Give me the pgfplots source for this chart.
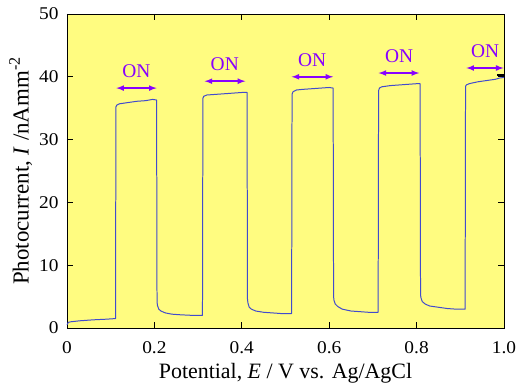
\documentclass[border=0pt]{standalone}
\usepackage{fontspec}
\setmainfont{Liberation Serif}
\newfontfamily\tickfont{Liberation Serif}[FakeStretch=1.08]
\usepackage{pgfplots}
\pgfplotsset{compat=1.18}
\definecolor{bgyellow}{RGB}{255,252,128}
\definecolor{lineblue}{RGB}{65,75,205}
\definecolor{onpurple}{RGB}{136,0,255}
\begin{document}
\begin{tikzpicture}[x=1bp,y=1bp]
\begin{axis}[
  scale only axis,
  width=437bp, height=314bp,
  xmin=0, xmax=1, ymin=0, ymax=50,
  axis background/.style={fill=bgyellow},
  xtick={0,0.2,0.4,0.6,0.8,1.0},
  xticklabels={0,0.2,0.4,0.6,0.8,1.0},
  ytick={0,10,20,30,40,50},
  tick align=inside,
  major tick length=6bp,
  minor tick num=0,
  tick style={black, line width=0.8pt},
  axis line style={black, line width=0.9pt},
  /pgf/number format/assume math mode=true,
  tick label style={font=\tickfont\fontsize{18}{18}\selectfont},
  xlabel style={font=\fontsize{22}{22}\selectfont},
  ylabel style={font=\fontsize{23}{23}\selectfont},
  xlabel={Potential, \textit{E} / V vs. Ag/AgCl},
  ylabel={Photocurrent, \textit{I} /nAmm\textsuperscript{-2}},
  xlabel style={yshift=-3bp},
  ylabel style={yshift=0bp},
  xticklabel style={yshift=-10bp},
  yticklabel style={xshift=-5bp},
  clip=false,
]
\addplot[lineblue, line width=1.0pt, line join=round] coordinates {
(0,0.5) (0.003,0.9) (0.01,1.0) (0.03,1.15) (0.06,1.3) (0.09,1.4) (0.111,1.5)
(0.112,35.2) (0.114,35.5) (0.12,35.7) (0.14,35.9) (0.16,36.1) (0.18,36.2) (0.196,36.4) (0.205,36.3)
(0.206,4.2) (0.207,3.6) (0.21,3.0) (0.215,2.7) (0.225,2.4) (0.24,2.2) (0.26,2.1) (0.29,2.0) (0.31,2.0)
(0.311,36.6) (0.313,36.9) (0.32,37.1) (0.34,37.2) (0.36,37.3) (0.38,37.4) (0.40,37.5) (0.412,37.5)
(0.413,4.6) (0.414,4.0) (0.417,3.3) (0.422,3.0) (0.432,2.7) (0.45,2.5) (0.47,2.4) (0.49,2.3) (0.514,2.3)
(0.515,37.2) (0.517,37.6) (0.525,37.9) (0.54,38.0) (0.56,38.1) (0.58,38.2) (0.60,38.3) (0.609,38.2)
(0.610,5.0) (0.611,4.4) (0.614,3.8) (0.62,3.4) (0.63,3.0) (0.65,2.7) (0.67,2.6) (0.69,2.5) (0.712,2.5)
(0.713,37.8) (0.715,38.2) (0.72,38.4) (0.74,38.6) (0.76,38.7) (0.78,38.8) (0.80,38.9) (0.808,38.9)
(0.809,5.3) (0.810,4.8) (0.813,4.2) (0.82,3.8) (0.83,3.5) (0.85,3.3) (0.87,3.1) (0.89,3.0) (0.911,3.0)
(0.912,38.5) (0.914,38.7) (0.92,38.9) (0.94,39.2) (0.96,39.4) (0.98,39.6) (0.99,39.8) (1.0,39.9)
};
\addplot[black, line width=1.6pt] coordinates {(0.985,40.3) (1.0,40.3)};
% ON arrows
\addplot[onpurple, line width=1.6pt, <->, >=latex] coordinates {(0.113,38.2) (0.205,38.2)};
\addplot[onpurple, line width=1.6pt, <->, >=latex] coordinates {(0.315,39.3) (0.408,39.3)};
\addplot[onpurple, line width=1.6pt, <->, >=latex] coordinates {(0.514,40.0) (0.609,40.0)};
\addplot[onpurple, line width=1.6pt, <->, >=latex] coordinates {(0.713,40.6) (0.806,40.6)};
\addplot[onpurple, line width=1.6pt, <->, >=latex] coordinates {(0.914,41.4) (0.999,41.4)};
\node[onpurple, font=\fontsize{19.5}{19.5}\selectfont, anchor=base] at (axis cs:0.159,39.9) {ON};
\node[onpurple, font=\fontsize{19.5}{19.5}\selectfont, anchor=base] at (axis cs:0.361,41.0) {ON};
\node[onpurple, font=\fontsize{19.5}{19.5}\selectfont, anchor=base] at (axis cs:0.561,41.7) {ON};
\node[onpurple, font=\fontsize{19.5}{19.5}\selectfont, anchor=base] at (axis cs:0.760,42.3) {ON};
\node[onpurple, font=\fontsize{19.5}{19.5}\selectfont, anchor=base] at (axis cs:0.957,43.1) {ON};
\end{axis}
\pgfresetboundingbox
\path (current axis.south west) ++(-67bp,-59bp) coordinate (bbl);
\path (current axis.north east) ++(14bp,14bp) coordinate (btr);
\path[use as bounding box] (bbl) rectangle (btr);
\end{tikzpicture}
\end{document}
